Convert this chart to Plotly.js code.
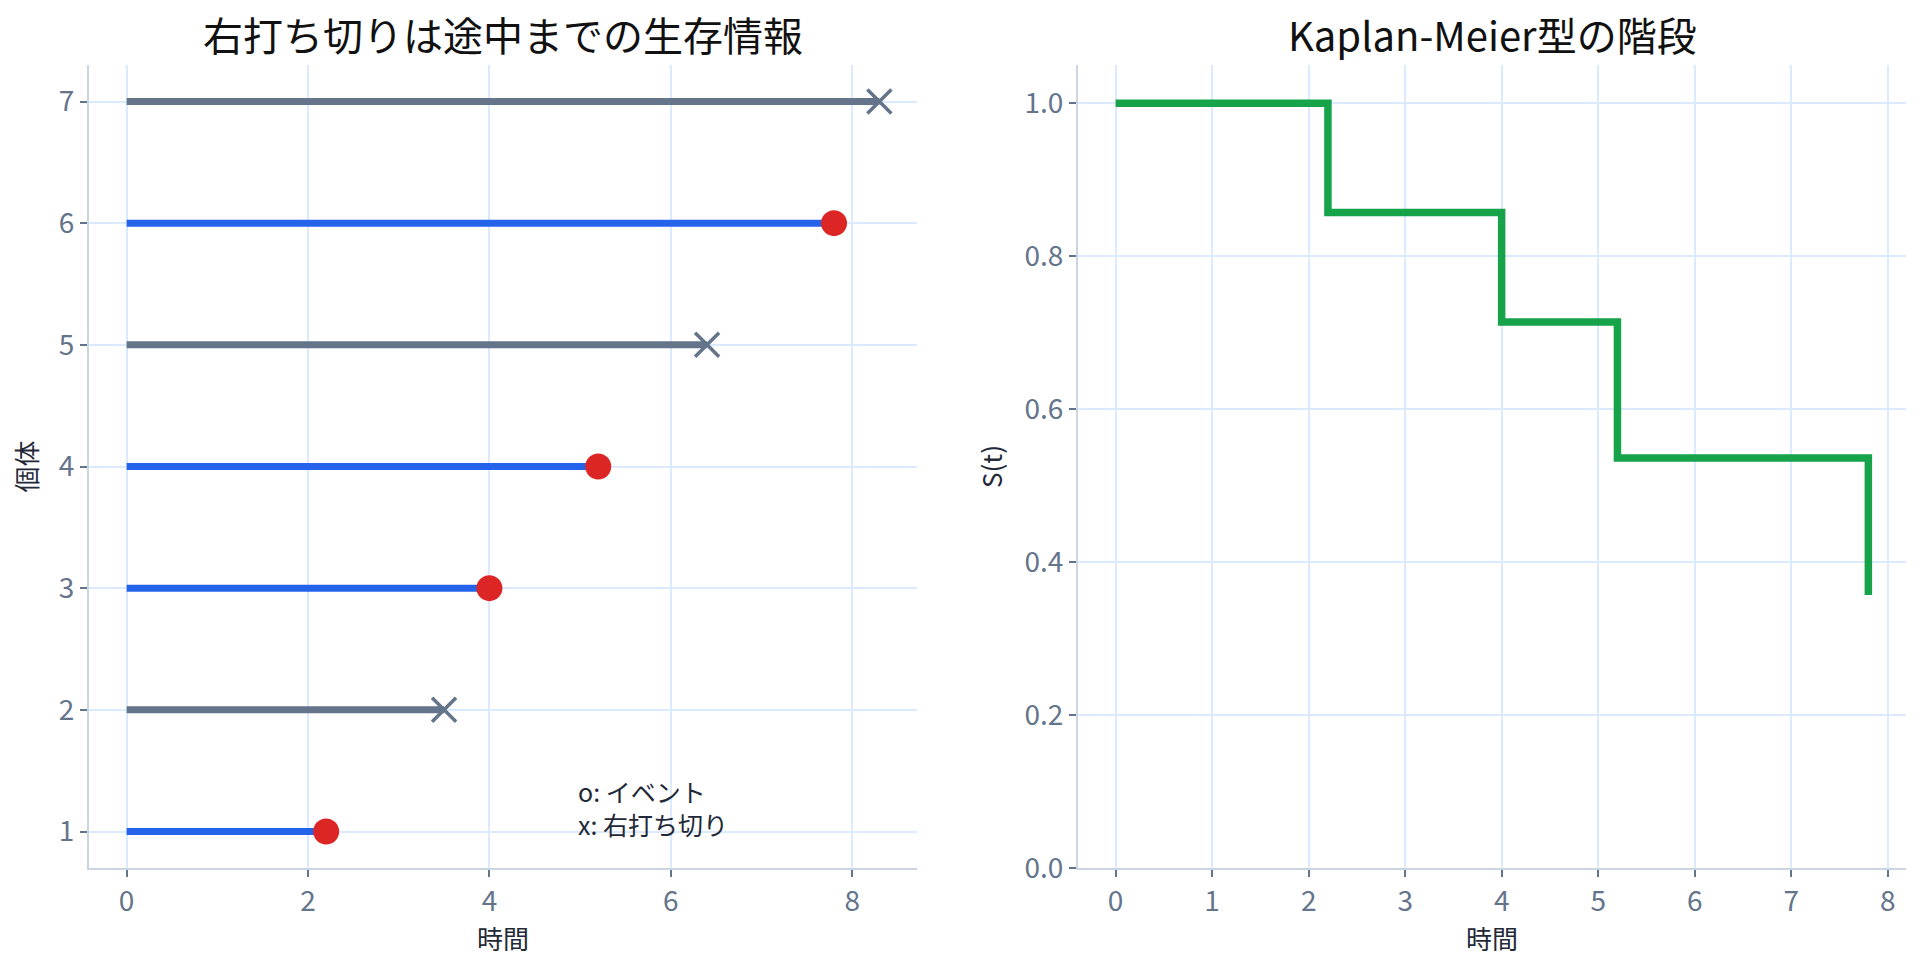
<!DOCTYPE html>
<html>
<head>
<meta charset="utf-8">
<script src="https://cdn.plot.ly/plotly-3.0.1.min.js"></script>
<style>
  html, body { margin: 0; padding: 0; background: #fff; }
  #chart { width: 1920px; height: 966px; }
</style>
</head>
<body>
<div id="chart"></div>
<script>
// 個体ごとの観測時間とイベント有無 (1 = イベント, 0 = 右打ち切り)
let subjects = [1, 2, 3, 4, 5, 6, 7];
let times = [2.2, 3.5, 4.0, 5.2, 6.4, 7.8, 8.3];
let events = [1, 0, 1, 1, 0, 1, 0];

// Kaplan-Meier の段
let km_times = [0, 2.2, 4.0, 5.2, 7.8];
let km_surv = [1.0, 0.857, 0.714, 0.536, 0.357];

let blue = '#2563eb';
let red = '#dc2626';
let slate = '#64748b';
let green = '#16a34a';
let font_family = '"Noto Sans CJK JP", "Noto Sans", sans-serif';

let data = [];

for (let i = 0; i < subjects.length; ++i) {
    let color = events[i] ? blue : slate;
    data.push({
        x: [0, times[i]],
        y: [subjects[i], subjects[i]],
        mode: 'lines',
        line: { color: color, width: 7 },
        hoverinfo: 'skip',
        showlegend: false
    });
}

for (let i = 0; i < subjects.length; ++i) {
    if (events[i]) {
        data.push({
            x: [times[i]], y: [subjects[i]],
            mode: 'markers',
            marker: { symbol: 'circle', size: 26, color: red },
            showlegend: false
        });
    } else {
        data.push({
            x: [times[i]], y: [subjects[i]],
            mode: 'markers',
            marker: { symbol: 'x-thin-open', size: 24, color: slate, line: { color: slate, width: 3.5 } },
            showlegend: false
        });
    }
}

data.push({
    x: km_times,
    y: km_surv,
    mode: 'lines',
    line: { color: green, width: 7.5, shape: 'hv' },
    xaxis: 'x2',
    yaxis: 'y2',
    showlegend: false
});

let axis_common = {
    showline: true,
    linecolor: '#cbd5e1',
    linewidth: 2,
    mirror: false,
    ticks: 'outside',
    ticklen: 7,
    tickwidth: 2,
    tickcolor: '#64748b',
    tickfont: { family: font_family, size: 28, color: '#64748b' },
    showgrid: true,
    gridcolor: '#dbeafe',
    gridwidth: 2,
    zeroline: false
};

let title_font = { family: font_family, size: 26, color: '#1f2937' };

let layout = {
    width: 1920,
    height: 966,
    paper_bgcolor: '#ffffff',
    plot_bgcolor: '#ffffff',
    font: { family: font_family, color: '#1f2937' },
    margin: { l: 89, r: 14, t: 65, b: 98 },
    xaxis: Object.assign({}, axis_common, {
        domain: [0, 0.4557],
        range: [-0.415, 8.715],
        tickvals: [0, 2, 4, 6, 8],
        title: { text: '時間', font: title_font, standoff: 0 },
        anchor: 'y'
    }),
    yaxis: Object.assign({}, axis_common, {
        range: [0.7, 7.3],
        tickvals: subjects,
        title: { text: '個体', font: title_font, standoff: 14 },
        anchor: 'x'
    }),
    xaxis2: Object.assign({}, axis_common, {
        domain: [0.5443, 1],
        range: [-0.39, 8.19],
        tickvals: [0, 1, 2, 3, 4, 5, 6, 7, 8],
        title: { text: '時間', font: title_font, standoff: 0 },
        anchor: 'y2'
    }),
    yaxis2: Object.assign({}, axis_common, {
        range: [0, 1.05],
        tickvals: [0, 0.2, 0.4, 0.6, 0.8, 1.0],
        tickformat: '.1f',
        title: { text: 'S(t)', font: title_font, standoff: 14 },
        anchor: 'x2'
    }),
    annotations: [
        {
            text: '右打ち切りは途中までの生存情報',
            font: { family: font_family, size: 40, color: '#111111' },
            showarrow: false,
            xref: 'paper', yref: 'paper',
            x: 0.2278, y: 1.0,
            xanchor: 'center', yanchor: 'bottom'
        },
        {
            text: 'Kaplan-Meier型の階段',
            font: { family: font_family, size: 40, color: '#111111' },
            showarrow: false,
            xref: 'paper', yref: 'paper',
            x: 0.7722, y: 1.0,
            xanchor: 'center', yanchor: 'bottom'
        },
        {
            text: 'o: イベント<br>x: 右打ち切り',
            font: { family: font_family, size: 25, color: '#1f2937' },
            showarrow: false,
            align: 'left',
            xref: 'x', yref: 'y',
            x: 5.0, y: 1.0,
            xanchor: 'left', yanchor: 'middle',
            xshift: -4,
            yshift: 24
        }
    ]
};

Plotly.newPlot('chart', data, layout, { displayModeBar: false, staticPlot: true });
</script>
</body>
</html>
